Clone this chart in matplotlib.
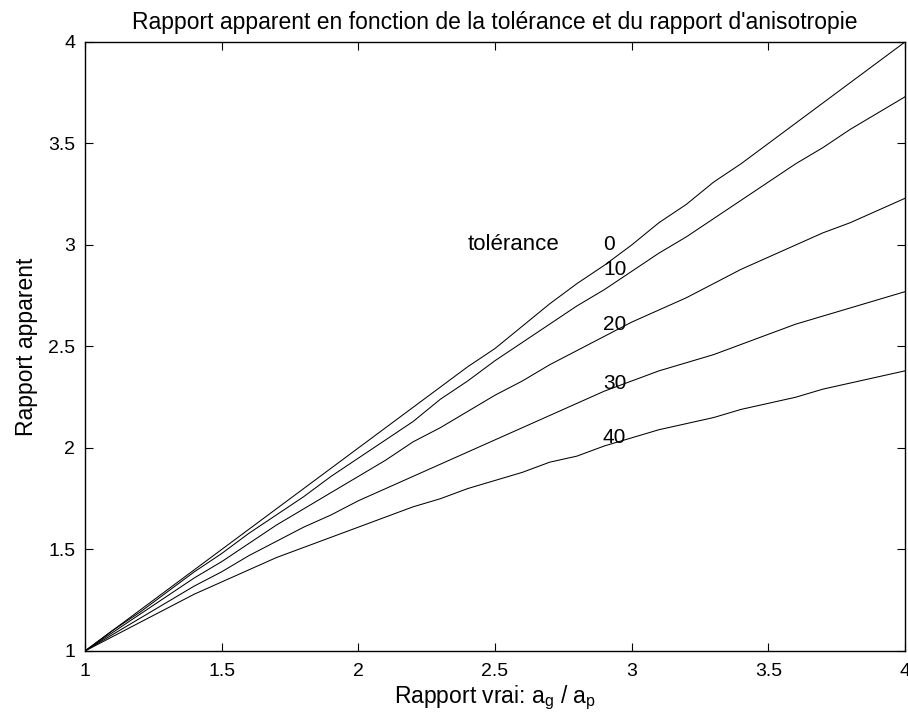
import numpy as np
import matplotlib
matplotlib.use("Agg")
import matplotlib.pyplot as plt

plt.rcParams['font.family'] = ['Liberation Sans', 'DejaVu Sans']
plt.rcParams['mathtext.default'] = 'regular'

x = [1.0, 1.1, 1.2, 1.3, 1.4, 1.5, 1.6, 1.7, 1.8, 1.9, 2.0,
     2.1, 2.2, 2.3, 2.4, 2.5, 2.6, 2.7, 2.8, 2.9, 3.0,
     3.1, 3.2, 3.3, 3.4, 3.5, 3.6, 3.7, 3.8, 3.9, 4.0]

tol_0 = [1.00, 1.10, 1.20, 1.30, 1.40, 1.50, 1.60, 1.70, 1.80, 1.90, 2.00,
         2.10, 2.20, 2.30, 2.40, 2.49, 2.60, 2.71, 2.81, 2.90, 3.00,
         3.11, 3.20, 3.31, 3.40, 3.50, 3.60, 3.70, 3.80, 3.90, 4.00]
tol_10 = [1.00, 1.10, 1.19, 1.29, 1.39, 1.48, 1.58, 1.67, 1.76, 1.86, 1.95,
          2.04, 2.13, 2.24, 2.33, 2.43, 2.52, 2.61, 2.70, 2.78, 2.87,
          2.96, 3.04, 3.13, 3.22, 3.31, 3.40, 3.48, 3.57, 3.65, 3.73]
tol_20 = [1.00, 1.09, 1.18, 1.27, 1.36, 1.44, 1.53, 1.62, 1.70, 1.78, 1.86,
          1.94, 2.03, 2.10, 2.18, 2.26, 2.33, 2.41, 2.48, 2.55, 2.62,
          2.68, 2.74, 2.81, 2.88, 2.94, 3.00, 3.06, 3.11, 3.17, 3.23]
tol_30 = [1.00, 1.08, 1.16, 1.24, 1.32, 1.39, 1.47, 1.54, 1.61, 1.67, 1.74,
          1.80, 1.86, 1.92, 1.98, 2.04, 2.10, 2.16, 2.22, 2.28, 2.33,
          2.38, 2.42, 2.46, 2.51, 2.56, 2.61, 2.65, 2.69, 2.73, 2.77]
tol_40 = [1.00, 1.07, 1.14, 1.21, 1.28, 1.34, 1.40, 1.46, 1.51, 1.56, 1.61,
          1.66, 1.71, 1.75, 1.80, 1.84, 1.88, 1.93, 1.96, 2.01, 2.05,
          2.09, 2.12, 2.15, 2.19, 2.22, 2.25, 2.29, 2.32, 2.35, 2.38]

curves = [tol_0, tol_10, tol_20, tol_30, tol_40]
labels = ['0', '10', '20', '30', '40']
label_y = [3.0, 2.88, 2.61, 2.32, 2.05]

fig = plt.figure(figsize=(9.08, 7.19), dpi=100)
ax = fig.add_axes([0.0936, 0.0946, 0.9031, 0.847])

for y in curves:
    ax.plot(x, y, color='black', linewidth=0.75)

for lab, ly in zip(labels, label_y):
    ax.text(2.895, ly, lab, fontsize=15, ha='left', va='center')
ax.text(2.40, 3.0, 'tolérance', fontsize=16, ha='left', va='center')

ax.set_xlim(1, 4)
ax.set_ylim(1, 4)
ax.set_xticks([1, 1.5, 2, 2.5, 3, 3.5, 4])
ax.set_yticks([1, 1.5, 2, 2.5, 3, 3.5, 4])
ax.set_xticklabels(['1', '1.5', '2', '2.5', '3', '3.5', '4'])
ax.set_yticklabels(['1', '1.5', '2', '2.5', '3', '3.5', '4'])
ax.tick_params(direction='in', top=True, right=True, length=6, width=0.8,
               labelsize=14)
ax.tick_params(axis='x', pad=9)
ax.tick_params(axis='y', pad=7)
for s in ax.spines.values():
    s.set_linewidth(1.0)

ax.set_title("Rapport apparent en fonction de la tolérance et du rapport d'anisotropie",
             fontsize=16.5, pad=9)
ax.set_xlabel('Rapport vrai: a$_g$ / a$_p$', fontsize=16.5, labelpad=2)
ax.set_ylabel('Rapport apparent', fontsize=16.5, labelpad=7)

fig.savefig('out.png', dpi=100)
